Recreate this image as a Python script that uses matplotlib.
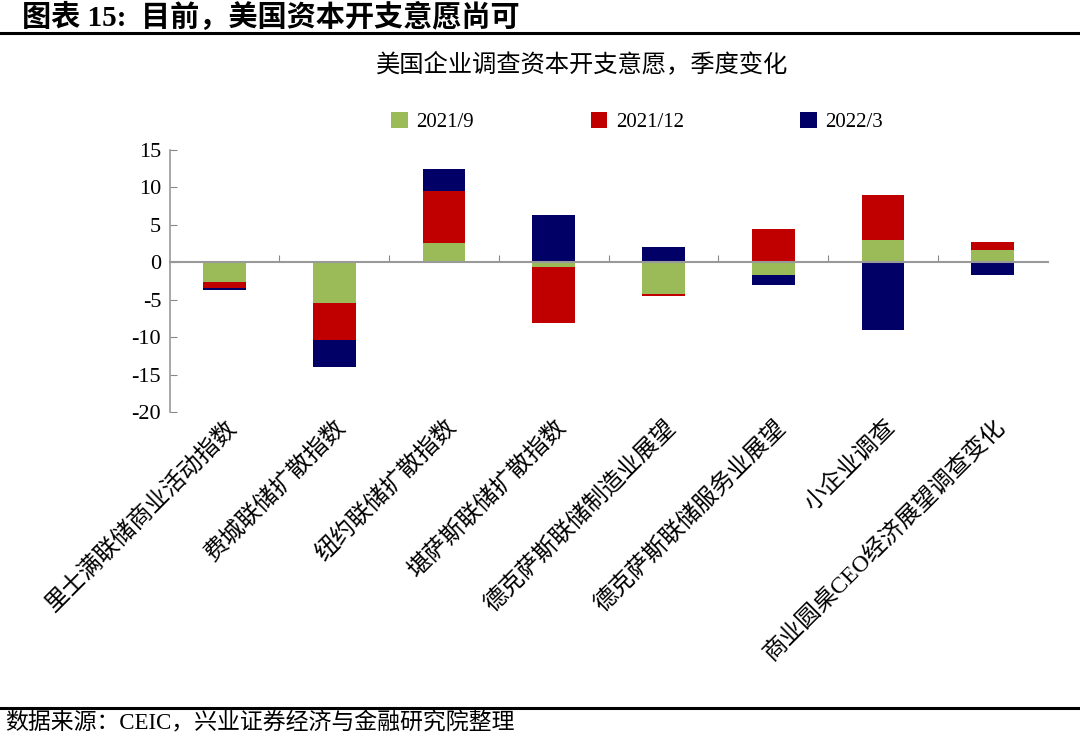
import numpy as np
import matplotlib.pyplot as plt
from matplotlib.patches import Patch
from matplotlib.lines import Line2D

plt.rcParams['font.family'] = ['Liberation Serif', 'Noto Sans CJK SC', 'DejaVu Sans']
plt.rcParams['axes.unicode_minus'] = False

categories = ['里士满联储商业活动指数', '费城联储扩散指数', '纽约联储扩散指数', '堪萨斯联储扩散指数',
              '德克萨斯联储制造业展望', '德克萨斯联储服务业展望', '小企业调查', '商业圆桌CEO经济展望调查变化']
s_2021_9 = [-2.7, -5.4, 2.5, -0.7, -4.2, -1.7, 3.0, 1.65]
s_2021_12 = [-0.7, -5.0, 7.0, -7.4, -0.35, 4.4, 6.0, 1.0]
s_2022_3 = [-0.3, -3.6, 2.9, 6.3, 2.05, -1.4, -9.1, -1.7]
series_names = ['2021/9', '2021/12', '2022/3']
colors = ['#9BBB59', '#C00000', '#000066']

fig = plt.figure(figsize=(10.8, 7.37), dpi=100)
ax = fig.add_axes([0.157, 0.441, 0.813, 0.356])

x = np.arange(len(categories))
pos_base = np.zeros(len(categories))
neg_base = np.zeros(len(categories))
for vals, col in zip([s_2021_9, s_2021_12, s_2022_3], colors):
    v = np.array(vals)
    bottom = np.where(v >= 0, pos_base, neg_base)
    ax.bar(x, v, width=0.39, bottom=bottom, color=col, edgecolor='none')
    pos_base = pos_base + np.where(v >= 0, v, 0)
    neg_base = neg_base + np.where(v < 0, v, 0)

ax.set_xlim(-0.5, len(categories) - 0.5)
ax.set_ylim(-20, 15)
ax.set_yticks(np.arange(-20, 16, 5))
ax.tick_params(axis='y', direction='in', length=5, color='#888888', labelsize=16, pad=6)
ax.set_xticks(np.arange(0.5, len(categories) - 0.5, 1.0))
ax.set_xticklabels([])
ax.tick_params(axis='x', direction='in', length=5, color='#888888')
for s in ['top', 'right']:
    ax.spines[s].set_visible(False)
ax.spines['bottom'].set_position(('data', 0))
ax.spines['bottom'].set_color('#999999')
ax.spines['bottom'].set_linewidth(1.5)
ax.spines['left'].set_color('#999999')
ax.spines['left'].set_linewidth(1.2)

# category labels, rotated, below the plot area
trans = ax.get_xaxis_transform()
for i, lab in enumerate(categories):
    ax.text(i + 0.08, -0.045, lab, transform=trans, rotation=45, rotation_mode='anchor',
            ha='right', va='center', fontsize=17)

handles = [Patch(facecolor=c, edgecolor='none') for c in colors]
fig.legend(handles, series_names, loc='center', bbox_to_anchor=(0.59, 0.834), ncol=3,
           frameon=False, fontsize=15, columnspacing=5.6, handlelength=0.8, handleheight=0.8,
           handletextpad=0.4)

fig.text(0.539, 0.913, '美国企业调查资本开支意愿，季度变化', ha='center', va='center', fontsize=17.5)
fig.text(0.02, 0.977, '图表 15:  目前，美国资本开支意愿尚可', ha='left', va='center',
         fontsize=21, fontweight='bold')
fig.add_artist(Line2D([0, 1], [0.955, 0.955], color='black', linewidth=2.2, transform=fig.transFigure))
fig.add_artist(Line2D([0, 1], [0.040, 0.040], color='black', linewidth=2.2, transform=fig.transFigure))
fig.text(0.005, 0.018, '数据来源：CEIC，兴业证券经济与金融研究院整理', ha='left', va='center', fontsize=16.5)

fig.savefig('out.png', dpi=100)
